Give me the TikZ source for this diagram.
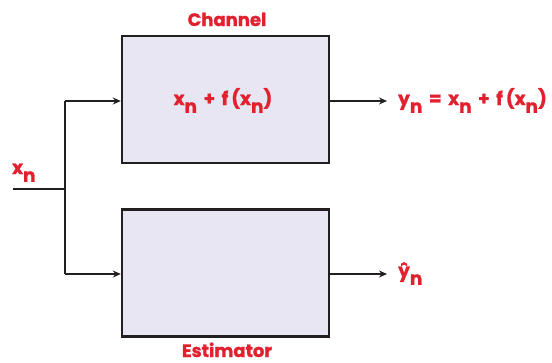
\documentclass[tikz,border=0pt]{standalone}
\usepackage{fontspec}
\setmainfont{Poppins}[BoldFeatures={FakeBold=1.2}]
\usetikzlibrary{arrows.meta}
\definecolor{lbl}{HTML}{E2202E}
\definecolor{boxfill}{HTML}{E8E6F2}
\definecolor{ln}{HTML}{231F20}
\newcommand{\sbn}{\raisebox{-0.42em}{n}}
\newcommand{\gp}{\hspace{6.5pt}}
\newcommand{\fg}{\hspace{3pt}}
\tikzset{
  blk/.style={draw=ln, line width=2.4pt, fill=boxfill, minimum width=207pt, minimum height=127pt, inner sep=0pt},
  lab/.style={text=lbl, font=\fontsize{18}{20}\selectfont\bfseries, inner sep=0pt, anchor=base},
  eq/.style={text=lbl, font=\fontsize{18.5}{20}\selectfont\bfseries, inner sep=0pt, anchor=base},
  wire/.style={draw=ln, line width=2pt},
  arr/.style={wire, -{Stealth[length=8pt,width=7pt]}}
}
\begin{document}
\begin{tikzpicture}[x=1pt,y=-1pt]
\useasboundingbox (0,0) rectangle (552,362);
\node[blk] (ch) at (225.5,99.5) {};
\node[blk] (est) at (225.5,273) {};
\node[lab] (chl) at (227,26) {Channel};
\node[lab] (estl) at (227,357) {Estimator};
\node[eq] (chin) at (223,105) {x\sbn\gp+\gp f\fg(x\sbn)};
\coordinate (in) at (13,189);
\coordinate (j) at (65,189);
\coordinate (jt) at (65,101);
\coordinate (jb) at (65,274);
\node[eq, anchor=base west] (xn) at (12,174) {x\sbn};
\coordinate (o1) at (387,101);
\coordinate (o2) at (387,274);
\node[eq, anchor=base west] (yl) at (398,105) {y\sbn\gp=\gp x\sbn\gp+\gp f\fg(x\sbn)};
\node[eq, anchor=base west] (yh) at (398,277) {\^y\sbn};
\draw[wire] (in) -- (j);
\draw[wire] (jt) -- (jb);
\draw[arr] (jt) -- (jt -| ch.west);
\draw[arr] (jb) -- (jb -| est.west);
\draw[arr] (ch.east |- o1) -- (o1);
\draw[arr] (est.east |- o2) -- (o2);
\end{tikzpicture}
\end{document}
